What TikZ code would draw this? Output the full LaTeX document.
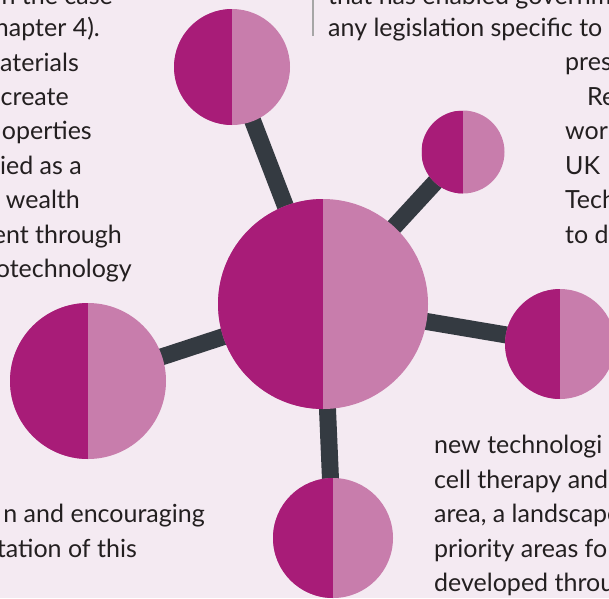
\documentclass[tikz,border=0pt]{standalone}
\usepackage{fontspec}
\setmainfont{Lato}
\usetikzlibrary{backgrounds}
\definecolor{plum}{HTML}{A81C78}
\definecolor{orchid}{HTML}{C87DAC}
\definecolor{paper}{HTML}{F4EAF2}
\definecolor{slate}{HTML}{343A41}
\definecolor{ink}{HTML}{231F20}
\tikzstyle{hub} = [circle, inner sep=0pt, fill=orchid, path picture={\fill[plum] (path picture bounding box.south west) rectangle (path picture bounding box.north);}]
\tikzstyle{spoke} = [draw, line width=17pt, color=slate]
\tikzstyle{prose} = [inner sep=0pt, font=\fontsize{25}{30}\selectfont, text=ink]
\tikzstyle{lcol} = [prose, anchor=base east]
\tikzstyle{rcol} = [prose, anchor=base west]

\begin{document}
\begin{tikzpicture}[x=1pt,y=-1pt]
  \useasboundingbox (0,0) rectangle (609,598);
  \node (core) [hub, minimum size=210pt] at (323,304) {};
  \node (nw) [hub, minimum size=116pt] at (232,67) {};
  \node (ne) [hub, minimum size=83pt] at (463,152) {};
  \node (east) [hub, minimum size=110pt] at (560,344) {};
  \node (west) [hub, minimum size=156pt] at (88,381) {};
  \node (south) [hub, minimum size=120pt] at (333,538) {};
  \begin{scope}[on background layer]
    \fill [paper] (0,0) rectangle (609,598);
    \foreach \n in {nw,ne,east,west,south}
      \draw [spoke] (core.center) -- (\n.center);
  \end{scope}

  \node (l1) [lcol] at (113,4) {n the case};
  \node (l2) [lcol] at (100,36) {hapter 4).};
  \node (l3) [lcol] at (79,71) {aterials};
  \node (l4) [lcol] at (69,105) {create};
  \node (l5) [lcol] at (92,139) {operties};
  \node (l6) [lcol] at (82,174) {ied as a};
  \node (l7) [lcol] at (80,208) {wealth};
  \node (l8) [lcol] at (122,243) {ent through};
  \node (l9) [lcol] at (132,277) {otechnology};

  \node (bar) [fill=gray!70, minimum width=2.5pt, minimum height=36pt, inner sep=0pt, anchor=north] at (313,0) {};
  \node (r1) [rcol] at (328,4) {that has enabled governm};
  \node (r2) [rcol] at (328,36) {any legislation specific to};
  \node (r3) [rcol] at (565,70) {pres};
  \node (r4) [rcol] at (587,105) {Re};
  \node (r5) [rcol] at (565,139) {wor};
  \node (r6) [rcol] at (565,174) {UK};
  \node (r7) [rcol] at (565,208) {Tech};
  \node (r8) [rcol] at (565,243) {to d};

  \node (bl1) [lcol] at (205,522) {n and encouraging};
  \node (bl2) [lcol] at (137,557) {tation of this};

  \node (br1) [rcol] at (434,453) {new technologi};
  \node (br2) [rcol] at (434,488) {cell therapy and};
  \node (br3) [rcol] at (434,522) {area, a landscape};
  \node (br4) [rcol] at (434,557) {priority areas fo};
  \node (br5) [rcol] at (434,591) {developed throu};
\end{tikzpicture}
\end{document}
